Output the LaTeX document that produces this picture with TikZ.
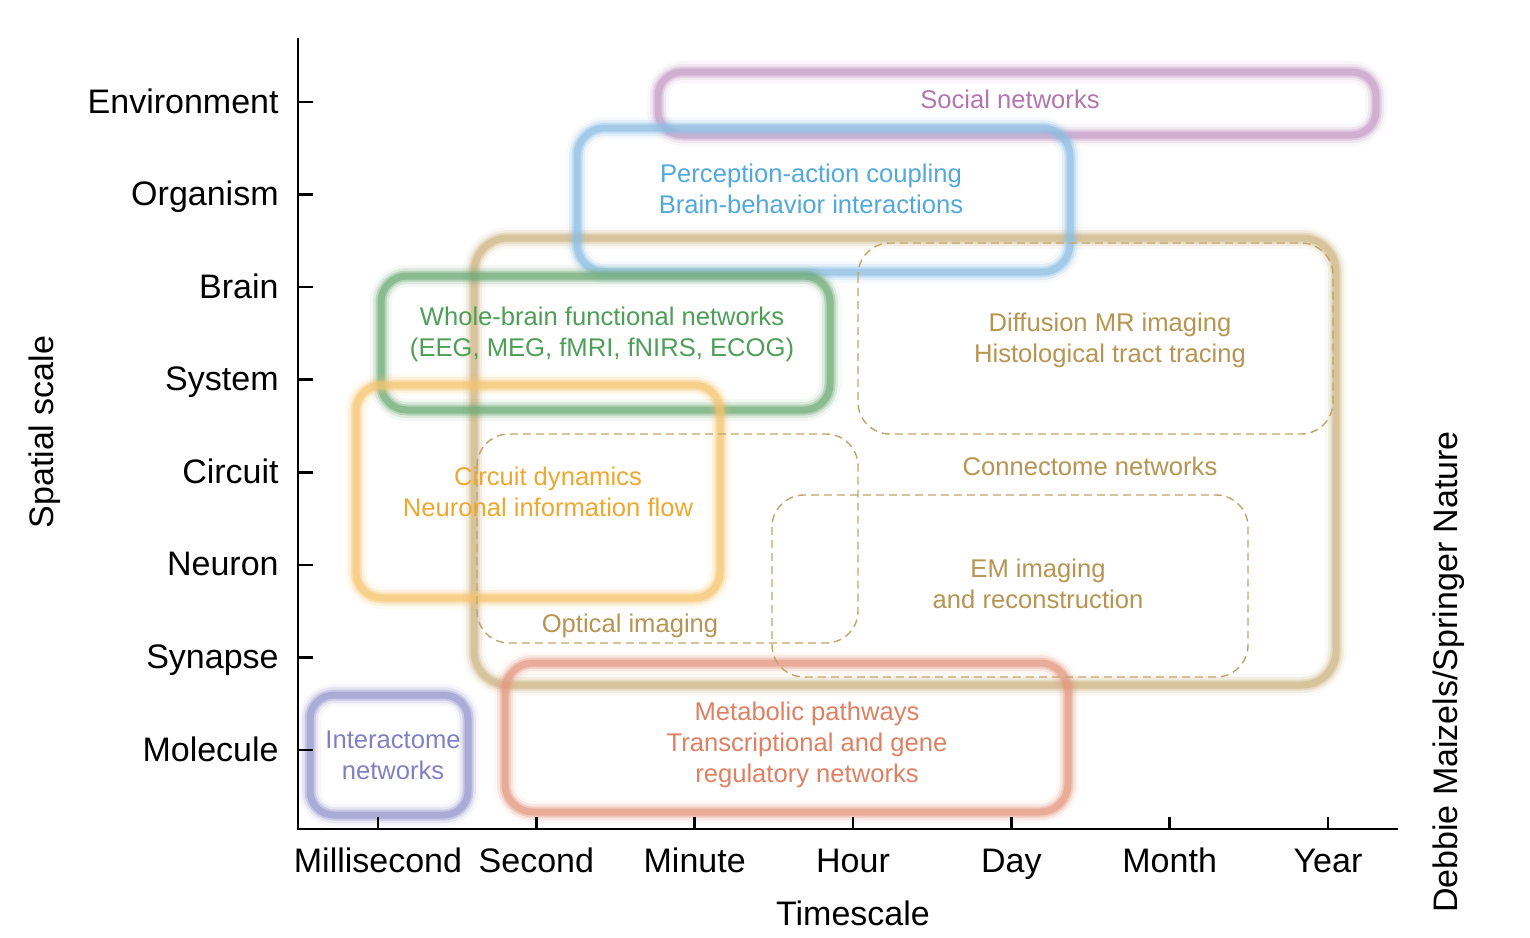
\documentclass[tikz,border=0pt]{standalone}
\usepackage{fontspec}
\setmainfont{Liberation Sans}

\definecolor{socialc}{RGB}{196,156,198}
\definecolor{socialt}{RGB}{178,118,172}
\definecolor{perceptc}{RGB}{140,190,228}
\definecolor{perceptt}{RGB}{82,168,218}
\definecolor{tanc}{RGB}{205,180,132}
\definecolor{tant}{RGB}{182,148,82}
\definecolor{greenc}{RGB}{110,170,118}
\definecolor{greent}{RGB}{78,158,88}
\definecolor{orangec}{RGB}{245,196,110}
\definecolor{oranget}{RGB}{238,168,48}
\definecolor{indigoc}{RGB}{150,150,205}
\definecolor{indigot}{RGB}{128,128,196}
\definecolor{salmonc}{RGB}{228,152,128}
\definecolor{salmont}{RGB}{222,128,98}

\begin{document}
\begin{tikzpicture}[x=0.5pt,y=-0.5pt]
    \tikzset{fuzzy/.style={draw=#1, line width=3.5pt, draw opacity=0.6,
        preaction={draw=#1, line width=5.5pt, draw opacity=0.35},
        preaction={draw=#1, line width=8pt, draw opacity=0.18},
        preaction={draw=#1, line width=11pt, draw opacity=0.08}}}
    \tikzset{dashbox/.style={draw=tant!85, line width=0.7pt,
        dash pattern=on 4pt off 2.5pt, rounded corners=16pt}}
    \tikzset{axisline/.style={line width=1.3pt, black}}
    \tikzset{axislab/.style={font=\fontsize{17}{20}\selectfont, inner sep=0pt}}
    \tikzset{boxtext/.style={font=\fontsize{12.8}{15.5}\selectfont, align=center,
        text=#1, inner sep=0pt}}

    \useasboundingbox (0,0) rectangle (1530,937);

    % blurred ranges
    \draw[fuzzy=tanc, rounded corners=17pt]    (474,238) rectangle (1336,685);
    \draw[fuzzy=socialc, rounded corners=12pt] (658,72)  rectangle (1376,135);
    \draw[fuzzy=perceptc, rounded corners=14pt] (577,128) rectangle (1070,272);
    \draw[fuzzy=greenc, rounded corners=13pt]  (381,276) rectangle (830,410);
    \draw[fuzzy=orangec, rounded corners=13pt] (356,385) rectangle (720,598);
    \draw[fuzzy=indigoc, rounded corners=12pt] (310,695) rectangle (468,815);
    \draw[fuzzy=salmonc, rounded corners=14pt] (505,663) rectangle (1068,812);

    % dashed sub-ranges
    \draw[dashbox] (858,243) rectangle (1333,434);
    \draw[dashbox] (477,434) rectangle (858,643);
    \draw[dashbox] (772,495) rectangle (1248,677);

    % axes
    \coordinate (orig) at (298,829);
    \draw[axisline] (298,38) -- (orig) -- (1398,829);
    \foreach \lab [count=\i from 0] in {Environment,Organism,Brain,System,Circuit,Neuron,Synapse,Molecule}{
        \draw[axisline] (298,{102+\i*92.57}) -- ++(15,0);
        \node[axislab, anchor=base east] (space-\i) at (279,{113+\i*92.57}) {\lab};
    }
    \foreach \lab [count=\i from 0] in {Millisecond,Second,Minute,Hour,Day,Month,Year}{
        \draw[axisline] ({378+\i*158.33},829) -- ++(0,-12);
        \node[axislab, anchor=base] (time-\i) at ({378+\i*158.33},872) {\lab};
    }
    \node[axislab, anchor=base] (timescale) at (853,925) {Timescale};
    \node[axislab, anchor=base, rotate=90] (spatial) at (53,432) {Spatial scale};
    \node[axislab, anchor=base, rotate=90] (credit) at (1457,672) {Debbie Maizels/Springer Nature};

    % labels
    \node[boxtext=socialt] (social) at (1010,99) {Social networks};
    \node[boxtext=perceptt] (percept) at (811,189) {Perception-action coupling\\Brain-behavior interactions};
    \node[boxtext=greent] (wholebrain) at (602,334) {Whole-brain functional networks\\(EEG, MEG, fMRI, fNIRS, ECOG)};
    \node[boxtext=tant] (diffusion) at (1110,340) {Diffusion MR imaging\\Histological tract tracing};
    \node[boxtext=oranget] (circuit) at (548,492) {Circuit dynamics\\Neuronal information flow};
    \node[boxtext=tant] (connectome) at (1090,466) {Connectome networks};
    \node[boxtext=tant] (emimg) at (1038,584) {EM imaging\\and reconstruction};
    \node[boxtext=tant] (optical) at (630,626) {Optical imaging};
    \node[boxtext=salmont] (metabolic) at (807,745) {Metabolic pathways\\Transcriptional and gene\\regulatory networks};
    \node[boxtext=indigot] (interact) at (393,755) {Interactome\\networks};
\end{tikzpicture}
\end{document}
